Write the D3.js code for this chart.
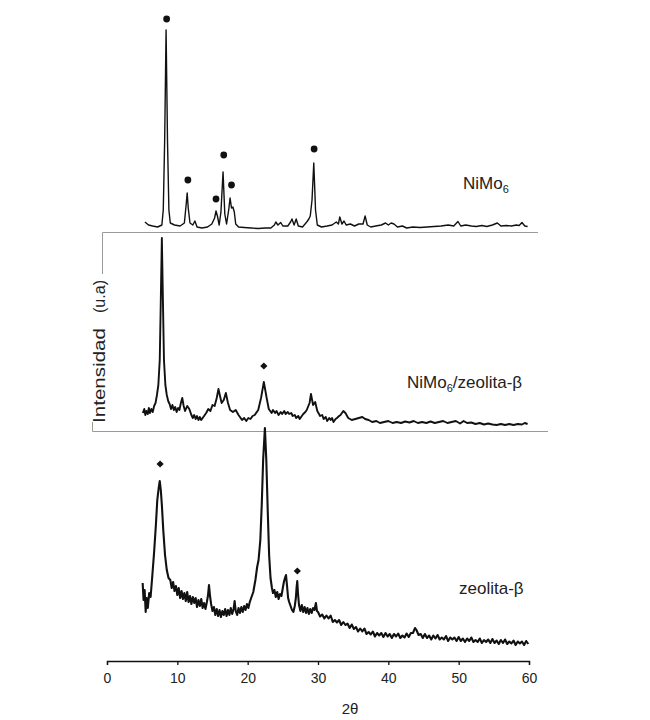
<!DOCTYPE html>
<html>
<head>
<meta charset="utf-8">
<script src="https://cdn.jsdelivr.net/npm/d3@7"></script>
<style>
  body { margin: 0; background: #fff; }
  text { font-family: "Liberation Sans", Arial, sans-serif; fill: #222; }
</style>
</head>
<body>
<script>
// difractogramas: [2θ, intensidad (u.a.)]
const nimo6 = [
  [5.4, 8], [5.9, 5], [6.5, 4], [7.2, 3], [7.8, 5], [8.0, 20], [8.2, 90], [8.4, 200],
  [8.6, 90], [8.8, 20], [9.0, 7], [9.6, 5], [10.4, 4], [11.0, 7], [11.25, 25], [11.4, 37],
  [11.55, 22], [11.8, 7], [12.2, 5], [12.5, 9], [12.8, 3], [13.5, 2], [14.3, 3], [14.9, 6],
  [15.3, 12], [15.5, 19], [15.7, 14], [15.95, 5], [16.2, 18], [16.5, 58], [16.75, 16],
  [17.0, 6], [17.3, 20], [17.5, 32], [17.7, 22], [17.9, 23], [18.1, 18], [18.3, 6],
  [18.7, 3], [19.5, 2.5], [20.5, 2], [21.5, 1.5], [22.5, 2], [23.3, 2], [23.8, 5], [24.0, 8],
  [24.3, 5], [24.7, 7.5], [25.0, 4], [25.7, 4], [26.1, 8], [26.3, 11], [26.6, 5], [26.9, 11],
  [27.2, 4], [27.8, 3], [28.4, 8], [28.7, 11], [28.9, 14], [29.15, 30], [29.4, 67],
  [29.65, 20], [29.9, 5], [30.5, 3], [31.3, 4], [32.0, 5], [32.6, 8], [32.9, 6], [33.1, 13],
  [33.4, 6], [33.7, 9], [34.0, 5], [34.6, 6], [35.2, 4], [35.8, 6], [36.4, 6], [36.7, 14],
  [37.0, 5], [37.5, 3], [38.2, 4], [39.0, 5], [39.6, 7], [40.0, 5], [40.4, 7], [40.8, 6],
  [41.3, 3], [42.0, 4], [42.6, 2], [43.5, 3], [44.5, 2.5], [45.5, 3], [46.5, 3.5], [47.5, 4],
  [48.5, 5], [49.3, 4], [49.9, 8.5], [50.3, 4], [51.0, 5], [51.8, 4], [52.5, 3.5], [53.3, 4.5],
  [54.0, 3.5], [54.8, 5], [55.5, 7], [56.0, 4], [56.8, 4.5], [57.5, 4], [58.2, 5], [58.6, 4.5],
  [59.0, 7.5], [59.4, 4], [59.8, 3.5],
];

const nimoZeolita = [
  [5.1, 15], [5.3, 19], [5.45, 13], [5.6, 17], [5.8, 14], [5.95, 20], [6.1, 15], [6.3, 19],
  [6.5, 16], [6.7, 22], [6.9, 25], [7.1, 33], [7.3, 43], [7.5, 68], [7.65, 128], [7.8, 190],
  [7.95, 128], [8.1, 68], [8.3, 43], [8.5, 33], [8.7, 27], [8.9, 24], [9.1, 19], [9.3, 23],
  [9.5, 18], [9.7, 21], [9.9, 16], [10.1, 20], [10.3, 18], [10.5, 25], [10.7, 30], [10.9, 22],
  [11.1, 17], [11.4, 22], [11.7, 19], [12.0, 13], [12.2, 10], [12.4, 13], [12.6, 9], [12.8, 12],
  [13.0, 8], [13.2, 11], [13.4, 8], [13.7, 11], [14.1, 15], [14.4, 19], [14.7, 17], [15.0, 23],
  [15.3, 22], [15.6, 30], [15.85, 39], [16.1, 31], [16.3, 25], [16.6, 28], [16.9, 35],
  [17.2, 25], [17.5, 18], [17.9, 16], [18.3, 18], [18.7, 13], [19.0, 10], [19.2, 8], [19.5, 10],
  [19.8, 7], [20.1, 10], [20.4, 9], [20.7, 12], [21.0, 13], [21.5, 18], [21.9, 30], [22.3, 46],
  [22.7, 30], [23.0, 19], [23.4, 15], [23.6, 18], [23.9, 15], [24.1, 17], [24.4, 13],
  [24.7, 16], [24.9, 14], [25.2, 17], [25.4, 14], [25.7, 16], [25.9, 14], [26.2, 15],
  [26.4, 12], [26.7, 13], [26.9, 10], [27.2, 12], [27.4, 9], [27.7, 12], [27.9, 14], [28.2, 16],
  [28.4, 18], [28.8, 25], [29.0, 34], [29.3, 23], [29.6, 26], [29.9, 17], [30.3, 12],
  [30.6, 13], [30.8, 9], [31.1, 11], [31.3, 7], [31.6, 10], [31.8, 8], [32.0, 10], [32.2, 6],
  [32.5, 9], [32.7, 10], [33.0, 12], [33.2, 13], [33.6, 17], [33.9, 15], [34.3, 10], [34.8, 8],
  [35.3, 9], [35.8, 10], [36.3, 11], [36.7, 9], [37.2, 8], [37.7, 6], [38.3, 7], [38.8, 5],
  [39.4, 6], [40.0, 7], [40.6, 5], [41.2, 6], [41.8, 5], [42.4, 6.5], [43.0, 5.5], [43.6, 7],
  [44.2, 5], [44.8, 6], [45.4, 5], [46.0, 6.5], [46.6, 5], [47.2, 6], [47.8, 7], [48.4, 5],
  [49.0, 6], [49.6, 7], [50.2, 4.5], [50.7, 7], [51.2, 5], [51.8, 5.5], [52.4, 4], [53.0, 5],
  [53.6, 3.5], [54.2, 4.5], [54.8, 3.5], [55.4, 3], [56.0, 4], [56.6, 3], [57.2, 4], [57.8, 3],
  [58.4, 4], [59.0, 3.5], [59.4, 5], [59.8, 4],
];

const zeolita = [
  [5.07, 65], [5.2, 48], [5.35, 58], [5.5, 36], [5.65, 50], [5.8, 40], [6.0, 55], [6.2, 51],
  [6.45, 73], [6.7, 96], [6.95, 123], [7.15, 148], [7.35, 160], [7.5, 167], [7.65, 158],
  [7.8, 143], [8.0, 118], [8.25, 93], [8.5, 78], [8.75, 70], [9.0, 68], [9.2, 60], [9.4, 66],
  [9.6, 57], [9.8, 62], [10.0, 53], [10.2, 60], [10.4, 50], [10.6, 57], [10.8, 49], [11.0, 55],
  [11.2, 47], [11.4, 56], [11.6, 46], [11.8, 52], [12.0, 44], [12.2, 51], [12.4, 45],
  [12.6, 50], [12.8, 41], [13.0, 48], [13.2, 42], [13.4, 49], [13.6, 40], [13.8, 45], [14.0, 39],
  [14.2, 46], [14.35, 52], [14.5, 63], [14.65, 52], [14.8, 44], [15.0, 37], [15.2, 41],
  [15.4, 33], [15.6, 39], [15.8, 32], [16.0, 38], [16.2, 31], [16.4, 37], [16.6, 33], [16.8, 39],
  [17.0, 32], [17.2, 38], [17.4, 33], [17.6, 40], [17.8, 34], [18.0, 39], [18.15, 47],
  [18.3, 37], [18.5, 33], [18.7, 40], [18.9, 35], [19.1, 41], [19.3, 36], [19.5, 42], [19.7, 38],
  [19.9, 44], [20.1, 40], [20.3, 46], [20.5, 50], [20.8, 56], [21.1, 68], [21.35, 81],
  [21.55, 88], [21.8, 108], [22.0, 143], [22.2, 188], [22.45, 220], [22.65, 188], [22.85, 138],
  [23.05, 93], [23.25, 70], [23.45, 60], [23.6, 55], [23.8, 58], [24.0, 51], [24.2, 56],
  [24.4, 49], [24.6, 54], [24.8, 52], [25.0, 60], [25.15, 66], [25.3, 70], [25.45, 73],
  [25.6, 62], [25.75, 50], [25.9, 46], [26.1, 42], [26.3, 38], [26.5, 36], [26.7, 42],
  [26.85, 50], [26.95, 60], [27.05, 67], [27.15, 55], [27.3, 43], [27.5, 37], [27.7, 43],
  [27.9, 36], [28.1, 41], [28.3, 35], [28.5, 40], [28.7, 34], [28.9, 39], [29.1, 35], [29.3, 40],
  [29.5, 38], [29.7, 45], [29.85, 37], [30.0, 36], [30.3, 31.5], [30.6, 33.5], [30.9, 29.5],
  [31.2, 32.5], [31.5, 29.5], [31.8, 32.5], [32.1, 26], [32.4, 28], [32.7, 25.5], [33.0, 28],
  [33.3, 23], [33.6, 26], [33.9, 23], [34.2, 24.5], [34.5, 20], [34.8, 23.5], [35.1, 19],
  [35.4, 21], [35.7, 16.5], [36.0, 19.5], [36.3, 16.5], [36.6, 19.5], [36.9, 14], [37.2, 16],
  [37.5, 13.5], [37.8, 16.5], [38.1, 11.5], [38.4, 15], [38.7, 12.5], [39.0, 15], [39.3, 11],
  [39.6, 15], [39.9, 11.5], [40.2, 14], [40.5, 10], [40.8, 14], [41.1, 11.5], [41.4, 14.5],
  [41.7, 10], [42.0, 12.5], [42.3, 10.5], [42.6, 14.5], [42.9, 11], [43.2, 15], [43.5, 15],
  [43.8, 20], [44.0, 18], [44.3, 13], [44.6, 14], [44.9, 10], [45.2, 14], [45.5, 10],
  [45.8, 12.5], [46.1, 8.5], [46.4, 12.5], [46.7, 9.5], [47.0, 13], [47.3, 8.5], [47.6, 10.5],
  [47.9, 8.5], [48.2, 12], [48.5, 7], [48.8, 10.5], [49.1, 8.5], [49.4, 10.5], [49.7, 7],
  [50.0, 11], [50.3, 7], [50.6, 9.5], [50.9, 6], [51.2, 9.5], [51.5, 7], [51.8, 10.5], [52.1, 6],
  [52.4, 8], [52.7, 6], [53.0, 9.5], [53.3, 5], [53.6, 8], [53.9, 6], [54.2, 8.5], [54.5, 5],
  [54.8, 9], [55.1, 5], [55.4, 7.5], [55.7, 4], [56.0, 8], [56.3, 5], [56.6, 8.5], [56.9, 4],
  [57.2, 6.5], [57.5, 4.5], [57.8, 7.5], [58.1, 3], [58.4, 6.5], [58.7, 4.5], [59.0, 6.5],
  [59.3, 3], [59.6, 7], [59.9, 4],
];

// picos marcados: [2θ, altura de la marca]
const marcasNimo6 = [[8.48, 211], [11.5, 50], [15.5, 31], [16.6, 75], [17.7, 45], [29.45, 81]];
const marcasNimoZeolita = [[22.3, 62]];
const marcasZeolita = [[7.55, 184], [27.06, 77]];

const ticksX = [0, 10, 20, 30, 40, 50, 60];

const width = 650;
const height = 720;

const svg = d3
  .select("body")
  .append("svg")
  .attr("width", width)
  .attr("height", height);

const x = d3.scaleLinear().domain([0, 60]).range([107, 529]);

const paneles = [
  {
    datos: nimo6,
    marcas: marcasNimo6,
    simbolo: d3.symbol().type(d3.symbolCircle).size(36),
    giro: 0,
    y: d3.scaleLinear().domain([0, 200]).range([230, 30]),
    grosor: 1.4,
  },
  {
    datos: nimoZeolita,
    marcas: marcasNimoZeolita,
    simbolo: d3.symbol().type(d3.symbolSquare).size(26),
    giro: 45,
    y: d3.scaleLinear().domain([0, 190]).range([428, 238]),
    grosor: 1.9,
  },
  {
    datos: zeolita,
    marcas: marcasZeolita,
    simbolo: d3.symbol().type(d3.symbolSquare).size(26),
    giro: 45,
    y: d3.scaleLinear().domain([0, 220]).range([648, 428]),
    grosor: 2.1,
  },
];

// separadores de los paneles (gris)
const marcos = svg.append("g").attr("stroke", "#9a9a9a").attr("stroke-width", 1).attr("fill", "none");
marcos.append("path").attr("d", "M102.5,274 V232.5 H538");
marcos.append("path").attr("d", "M92.5,422 V431.5 H548");

paneles.forEach((p) => {
  const linea = d3
    .line()
    .x((d) => x(d[0]))
    .y((d) => p.y(d[1]));

  svg
    .append("path")
    .datum(p.datos)
    .attr("fill", "none")
    .attr("stroke", "#111")
    .attr("stroke-width", p.grosor)
    .attr("stroke-linejoin", "round")
    .attr("d", linea);

  svg
    .append("g")
    .selectAll("path")
    .data(p.marcas)
    .join("path")
    .attr("d", p.simbolo)
    .attr("fill", "#111")
    .attr("transform", (d) => `translate(${x(d[0])},${p.y(d[1])}) rotate(${p.giro})`);
});

// etiquetas de cada muestra
const etiqueta1 = svg.append("text").attr("x", 463).attr("y", 189).attr("font-size", 17);
etiqueta1.append("tspan").text("NiMo");
etiqueta1.append("tspan").attr("font-size", 11).attr("dy", 4).text("6");

const etiqueta2 = svg.append("text").attr("x", 407).attr("y", 388).attr("font-size", 17);
etiqueta2.append("tspan").text("NiMo");
etiqueta2.append("tspan").attr("font-size", 11).attr("dy", 4).text("6");
etiqueta2.append("tspan").attr("dy", -4).text("/zeolita-β");

svg.append("text").attr("x", 459).attr("y", 594).attr("font-size", 17).text("zeolita-β");

// eje x
const ejeX = svg
  .append("g")
  .attr("transform", "translate(0, 661)")
  .call(d3.axisBottom(x).tickValues(ticksX).tickSize(4).tickSizeOuter(4).tickPadding(8));
ejeX.select(".domain").attr("stroke", "#111").attr("stroke-width", 1.3);
ejeX.selectAll(".tick line").attr("stroke", "#111").attr("stroke-width", 1.3);
ejeX
  .selectAll(".tick text")
  .attr("font-family", "'Liberation Sans', Arial, sans-serif")
  .attr("font-size", 14)
  .attr("fill", "#222");

svg
  .append("text")
  .attr("x", 350)
  .attr("y", 714)
  .attr("text-anchor", "middle")
  .attr("font-size", 15)
  .text("2θ");

// eje y (solo titulo, en dos partes como en la figura)
svg
  .append("text")
  .attr("transform", "translate(105, 375.5) rotate(-90)")
  .attr("text-anchor", "middle")
  .attr("font-size", 17)
  .attr("textLength", 95)
  .attr("lengthAdjust", "spacingAndGlyphs")
  .text("Intensidad");

svg
  .append("text")
  .attr("transform", "translate(105, 296.5) rotate(-90)")
  .attr("text-anchor", "middle")
  .attr("font-size", 17)
  .attr("textLength", 33)
  .attr("lengthAdjust", "spacingAndGlyphs")
  .text("(u.a)");
</script>
</body>
</html>
